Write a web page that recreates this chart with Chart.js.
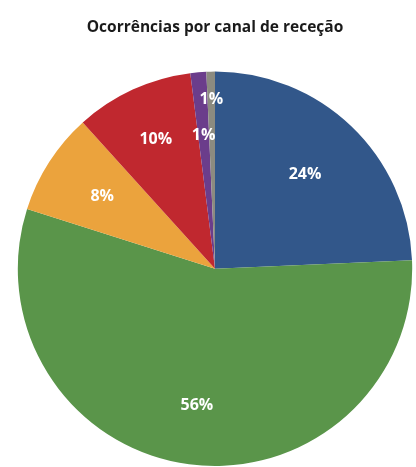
<!DOCTYPE html>
<html>
<head>
<meta charset="utf-8">
<script src="https://cdn.jsdelivr.net/npm/chart.js@4"></script>
<style>
  body { margin: 0; background: #fff; }
  canvas { display: block; }
</style>
</head>
<body>
<canvas id="pieChart" width="416" height="467"></canvas>
<script>
const canais = ['Canal 1', 'Canal 2', 'Canal 3', 'Canal 4', 'Canal 5', 'Canal 6'];
const valores = [24.3, 55.6, 8.4, 9.7, 1.3, 0.7];
const cores = ['#32578a', '#5a954a', '#eba33d', '#c0282f', '#6b3d8b', '#8c8b80'];
// distance of each label from the centre, as a fraction of the radius
const posLabel = [0.66, 0.7, 0.68, 0.72, 0.68, 0.86];

const pctLabels = {
  id: 'pctLabels',
  afterDatasetsDraw(chart) {
    const ctx = chart.ctx;
    const meta = chart.getDatasetMeta(0);
    const total = valores.reduce((a, b) => a + b, 0);
    ctx.save();
    ctx.fillStyle = '#fff';
    ctx.font = 'bold 16px "Open Sans", sans-serif';
    ctx.textAlign = 'center';
    ctx.textBaseline = 'middle';
    meta.data.forEach((arc, i) => {
      const p = arc.getProps(['x', 'y', 'startAngle', 'endAngle', 'outerRadius']);
      const mid = (p.startAngle + p.endAngle) / 2;
      const r = p.outerRadius * posLabel[i];
      const txt = Math.round(valores[i] / total * 100) + '%';
      ctx.fillText(txt, p.x + Math.cos(mid) * r, p.y + Math.sin(mid) * r);
    });
    ctx.restore();
  }
};

const ctxPie = document.getElementById('pieChart').getContext('2d');
const pieChart = new Chart(ctxPie, {
  type: 'pie',
  data: {
    labels: canais,
    datasets: [{
      data: valores,
      backgroundColor: cores,
      borderWidth: 0
    }]
  },
  options: {
    responsive: false,
    animation: false,
    layout: { padding: { left: 17, right: 3, bottom: 1 } },
    plugins: {
      legend: { display: false },
      tooltip: { enabled: false },
      title: {
        display: true,
        text: 'Ocorrências por canal de receção',
        color: '#1a1a1a',
        font: { family: '"Open Sans", sans-serif', size: 15.5, weight: 'bold' },
        padding: { top: 18, bottom: 35 }
      }
    }
  },
  plugins: [pctLabels]
});
</script>
</body>
</html>
